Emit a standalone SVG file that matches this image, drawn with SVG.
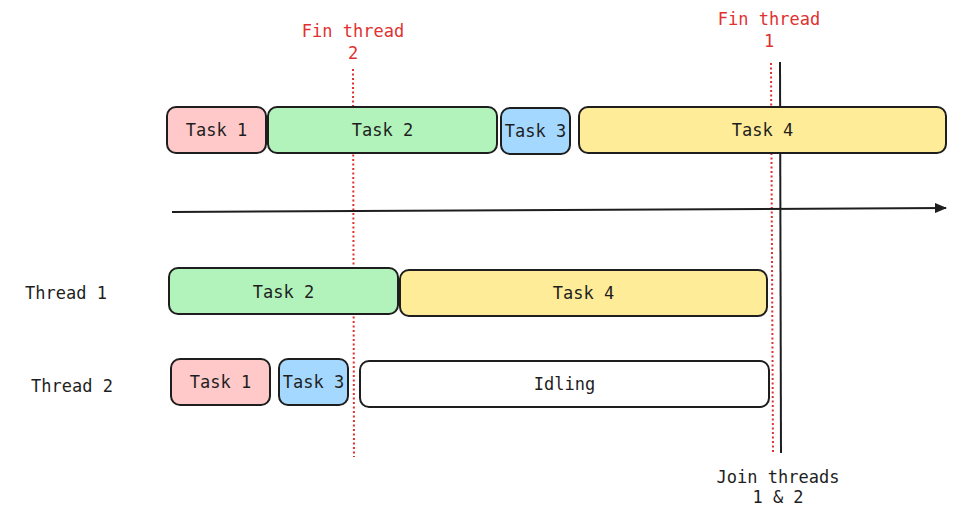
<svg xmlns="http://www.w3.org/2000/svg" width="957" height="530" viewBox="0 0 957 530">
<defs>
<style>
.box{stroke:#1e1e1e;stroke-width:2}
.t{font-family:"DejaVu Sans Mono","Liberation Mono",monospace;font-size:17px;fill:#1e1e1e;text-anchor:middle;dominant-baseline:central}
.r{fill:#e03131}
.red{stroke:#e03131;stroke-width:2;stroke-dasharray:2 2.5;fill:none}
.blk{stroke:#1e1e1e;stroke-width:2;fill:none}
</style>
<marker id="ah" markerWidth="12" markerHeight="10" refX="11" refY="5" orient="auto" markerUnits="userSpaceOnUse">
<path d="M0,0 L12,5 L0,10 Z" fill="#1e1e1e"/>
</marker>
</defs>
<rect width="957" height="530" fill="#ffffff"/>
<g id="connectors">
<line class="red" x1="353" y1="69" x2="354" y2="457"/>
<line class="red" x1="771" y1="63" x2="773" y2="452"/>
<line class="blk" x1="780" y1="62" x2="781" y2="453"/>
<line class="blk" x1="172" y1="212" x2="946" y2="208" marker-end="url(#ah)"/>
</g>
<g id="top-task1"><rect class="box" x="167" y="107" width="99" height="46" rx="9" fill="#ffc9c9"/><text class="t" x="216.5" y="130">Task 1</text></g>
<g id="top-task2"><rect class="box" x="268" y="107" width="229" height="46" rx="9" fill="#b2f2bb"/><text class="t" x="382.5" y="130">Task 2</text></g>
<g id="top-task3"><rect class="box" x="501" y="108" width="69" height="46" rx="9" fill="#a5d8ff"/><text class="t" x="535.5" y="131">Task 3</text></g>
<g id="top-task4"><rect class="box" x="579" y="107" width="367" height="46" rx="9" fill="#ffec99"/><text class="t" x="762.5" y="130">Task 4</text></g>
<g id="t1-task2"><rect class="box" x="169" y="268" width="229" height="46" rx="9" fill="#b2f2bb"/><text class="t" x="283.5" y="292">Task 2</text></g>
<g id="t1-task4"><rect class="box" x="400" y="270" width="367" height="46" rx="9" fill="#ffec99"/><text class="t" x="583.5" y="293">Task 4</text></g>
<g id="t2-task1"><rect class="box" x="171" y="359" width="99" height="46" rx="9" fill="#ffc9c9"/><text class="t" x="220.5" y="382">Task 1</text></g>
<g id="t2-task3"><rect class="box" x="279" y="359" width="69" height="46" rx="9" fill="#a5d8ff"/><text class="t" x="313.5" y="382">Task 3</text></g>
<g id="t2-idling"><rect class="box" x="360" y="361" width="409" height="46" rx="9" fill="#ffffff"/><text class="t" x="564.5" y="384">Idling</text></g>
<g id="label-thread1"><text class="t" x="66" y="293">Thread 1</text></g>
<g id="label-thread2"><text class="t" x="72" y="386">Thread 2</text></g>
<g id="label-fin2"><text class="t r" x="353" y="31">Fin thread</text><text class="t r" x="353" y="53">2</text></g>
<g id="label-fin1"><text class="t r" x="769" y="19">Fin thread</text><text class="t r" x="769" y="41">1</text></g>
<g id="label-join"><text class="t" x="778" y="477">Join threads</text><text class="t" x="778" y="497">1 &amp; 2</text></g>
</svg>
